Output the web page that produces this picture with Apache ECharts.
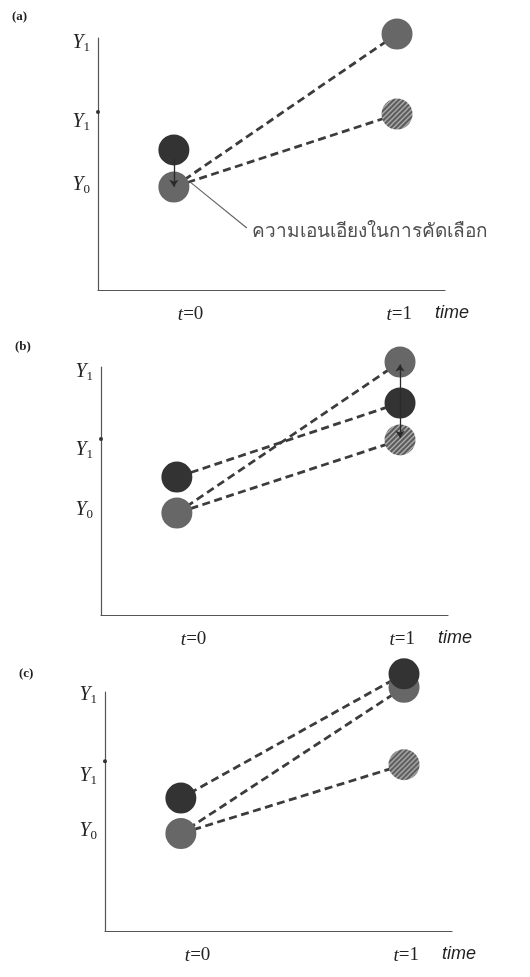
<!DOCTYPE html>
<html>
<head>
<meta charset="utf-8">
<script src="https://cdn.jsdelivr.net/npm/echarts@6/dist/echarts.min.js"></script>
<style>
  html, body { margin: 0; padding: 0; background: #fff; }
  #main { width: 530px; height: 977px; }
</style>
</head>
<body>
<div id="main"></div>
<script>
// tick labels
var xTickValues = [0.075, 1.01];
var xTickNames = ['t=0', 't=1'];
var yTickNames = ['Y1', 'Y1*', 'Y0'];
var yTicksA = [98, 66.7, 41.7];
var yTicksB = [98, 66.5, 42.3];
var yTicksC = [98.8, 64.8, 42];
var starA = [[-0.34, 70.6]];
var starB = [[-0.34, 71]];
var starC = [[-0.34, 71]];

// panel (a)
var aDark = [[0, 55.6]];
var aGray = [[0, 40.9], [1, 101.6]];
var aHatch = [[1, 69.8]];
var aDashed = [[[1, 101.6], [0, 40.9]], [[1, 69.8], [0, 40.9]]];
var aArrows = [[[0, 52], [0, 41]]];
var aNote = [[0.072, 42.9], [0.327, 24.6]];
var aNoteText = 'ความเอนเอียงในการคัดเลือก';

// panel (b)
var bDark = [[0, 55.6], [1, 85.5]];
var bGray = [[0, 41.1], [1, 102]];
var bHatch = [[1, 70.6]];
var bDashed = [[[1, 85.5], [0, 55.6]], [[1, 102], [0, 41.1]], [[1, 70.6], [0, 41.1]]];
var bArrows = [[[1, 85.5], [1, 101]], [[1, 85.5], [1, 71.5]]];

// panel (c)
var cDark = [[0, 55.6], [1, 107.6]];
var cGray = [[0, 40.8], [1, 102]];
var cHatch = [[1, 69.6]];
var cDashed = [[[1, 107.6], [0, 55.6]], [[1, 102], [0, 40.8]], [[1, 69.6], [0, 40.8]]];

var grids = [
  { left: 98, top: 38, width: 347, height: 252 },
  { left: 101, top: 367, width: 347, height: 248 },
  { left: 105, top: 692, width: 347, height: 250 }
];

var DOT = 31;

// hatch pattern (symbol paths are drawn at unit size and scaled by DOT/2,
// so the pattern is scaled back down to keep ~5px stripes)
var pc = document.createElement('canvas');
pc.width = 5; pc.height = 5;
var px = pc.getContext('2d');
px.fillStyle = '#5a5a5a';
px.fillRect(0, 0, 5, 5);
px.strokeStyle = '#b5b5b5';
px.lineWidth = 1.3;
px.beginPath();
px.moveTo(-1, 6); px.lineTo(6, -1);
px.moveTo(-1, 1); px.lineTo(1, -1);
px.moveTo(4, 6); px.lineTo(6, 4);
px.stroke();
var hatchFill = { image: pc, repeat: 'repeat', scaleX: 2 / DOT, scaleY: 2 / DOT };

var DARK = '#333333';
var GRAY = '#676767';
var LINE = '#3c3c3c';

var serif = 'Liberation Serif';
var yRich = {
  y: { fontFamily: serif, fontStyle: 'italic', fontSize: 20, color: '#222' },
  s: { fontFamily: serif, fontSize: 13, color: '#222', padding: [9, 0, 0, 0] }
};
var xRich = {
  t: { fontFamily: serif, fontStyle: 'italic', fontSize: 19, color: '#222' },
  n: { fontFamily: serif, fontSize: 19, color: '#222' }
};

function yFmt(ticks) {
  return function (v) {
    var i = ticks.indexOf(v);
    var nm = yTickNames[i] || '';
    return '{y|Y}{s|' + nm.charAt(1) + '}';
  };
}
function xFmt(v) {
  var i = xTickValues.indexOf(v);
  var nm = xTickNames[i] || '';
  return '{t|t}{n|' + nm.slice(1) + '}';
}

var xAxes = [], yAxes = [];
[yTicksA, yTicksB, yTicksC].forEach(function (ticks, k) {
  xAxes.push({
    gridIndex: k, type: 'value', min: -0.34, max: 1.215,
    name: 'time', nameLocation: 'end', nameGap: -10,
    nameTextStyle: { fontFamily: 'Liberation Sans', fontStyle: 'italic', fontSize: 18, color: '#222',
      verticalAlign: 'top', lineHeight: 46 },
    axisLine: { onZero: false, lineStyle: { color: '#555', width: 1.2 } },
    axisTick: { show: false }, splitLine: { show: false },
    axisLabel: { customValues: xTickValues, formatter: xFmt, rich: xRich, margin: 15 }
  });
  yAxes.push({
    gridIndex: k, type: 'value', min: 0, max: 100,
    axisLine: { show: true, onZero: false, lineStyle: { color: '#555', width: 1.2 } },
    axisTick: { show: false }, splitLine: { show: false },
    axisLabel: { customValues: ticks, formatter: yFmt(ticks), rich: yRich, margin: 8 }
  });
});

function dashed(k, segs) {
  return {
    type: 'lines', coordinateSystem: 'cartesian2d', xAxisIndex: k, yAxisIndex: k,
    z: 2, clip: false, silent: true,
    lineStyle: { color: LINE, width: 2.8, type: [8, 4.5], opacity: 1 },
    data: segs.map(function (s) { return { coords: s }; })
  };
}
function arrows(k, segs) {
  return {
    type: 'lines', coordinateSystem: 'cartesian2d', xAxisIndex: k, yAxisIndex: k,
    z: 5, clip: false, silent: true, symbol: ['none', 'arrow'], symbolSize: 7,
    lineStyle: { color: '#2a2a2a', width: 1.3, opacity: 1 },
    data: segs.map(function (s) { return { coords: s }; })
  };
}
function dots(k, data, fill, z) {
  return {
    type: 'scatter', xAxisIndex: k, yAxisIndex: k, z: z || 3, clip: false, silent: true,
    symbol: 'circle', symbolSize: DOT,
    itemStyle: { color: fill, opacity: 1 },
    data: data
  };
}
function star(k, data) {
  return {
    type: 'scatter', xAxisIndex: k, yAxisIndex: k, z: 4, clip: false, silent: true,
    symbol: 'circle', symbolSize: 4, itemStyle: { color: '#333', opacity: 1 }, data: data
  };
}

var series = [
  dashed(0, aDashed), dots(0, aGray, GRAY), dots(0, aHatch, hatchFill), dots(0, aDark, DARK),
  arrows(0, aArrows), star(0, starA),
  {
    type: 'lines', coordinateSystem: 'cartesian2d', xAxisIndex: 0, yAxisIndex: 0,
    z: 5, clip: false, silent: true,
    lineStyle: { color: '#666', width: 1.2, opacity: 1 },
    data: [{ coords: aNote }]
  },
  {
    type: 'scatter', xAxisIndex: 0, yAxisIndex: 0, z: 5, clip: false, silent: true,
    symbolSize: 0,
    label: { show: true, position: 'right', distance: 5, offset: [0, 4], formatter: aNoteText,
      fontFamily: 'Noto Sans', fontSize: 19, color: '#222' },
    data: [aNote[1]]
  },
  dashed(1, bDashed), dots(1, bGray, GRAY), dots(1, bHatch, hatchFill), dots(1, bDark, DARK),
  arrows(1, bArrows), star(1, starB),
  dashed(2, cDashed), dots(2, cGray, GRAY), dots(2, cHatch, hatchFill), dots(2, cDark, DARK, 4),
  star(2, starC)
];

var chart = echarts.init(document.getElementById('main'), null, { renderer: 'canvas' });
chart.setOption({
  animation: false,
  backgroundColor: '#fff',
  title: [
    { text: '(a)', left: 7, top: 5, textStyle: { fontFamily: serif, fontWeight: 'bold', fontSize: 13, color: '#222' } },
    { text: '(b)', left: 10, top: 335, textStyle: { fontFamily: serif, fontWeight: 'bold', fontSize: 13, color: '#222' } },
    { text: '(c)', left: 14, top: 662, textStyle: { fontFamily: serif, fontWeight: 'bold', fontSize: 13, color: '#222' } }
  ],
  grid: grids,
  xAxis: xAxes,
  yAxis: yAxes,
  series: series
});
</script>
</body>
</html>
